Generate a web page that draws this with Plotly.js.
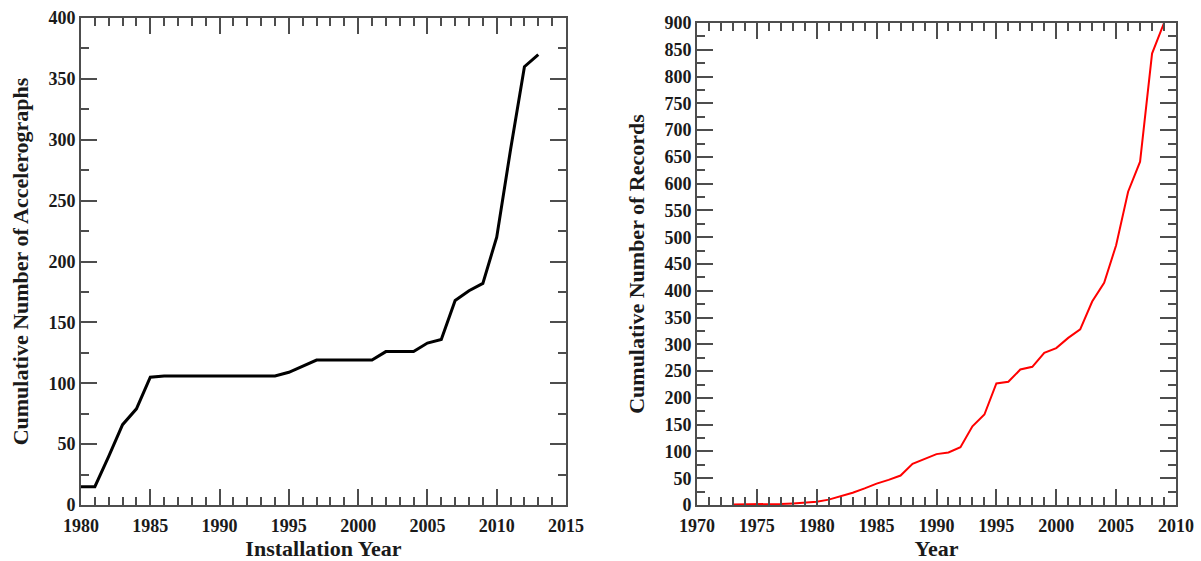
<!DOCTYPE html>
<html>
<head>
<meta charset="utf-8">
<script src="https://cdn.plot.ly/plotly-3.0.1.min.js"></script>
<style>
  html, body { margin: 0; padding: 0; background: #ffffff; }
  #chart { width: 1201px; height: 561px; }
</style>
</head>
<body>
<div id="chart"></div>
<script>
// Left panel: cumulative number of accelerographs by installation year
const installYears = [1980, 1981, 1982, 1983, 1984, 1985, 1986, 1987, 1988, 1989, 1990,
  1991, 1992, 1993, 1994, 1995, 1996, 1997, 1998, 1999, 2000, 2001, 2002, 2003, 2004,
  2005, 2006, 2007, 2008, 2009, 2010, 2011, 2012, 2013];
const accelerographs = [15, 15, 40, 66, 79, 105, 106, 106, 106, 106, 106,
  106, 106, 106, 106, 109, 114, 119, 119, 119, 119, 119, 126, 126, 126,
  133, 136, 168, 176, 182, 220, 292, 360, 370];

// Right panel: cumulative number of records by year
const recordYears = [1973, 1974, 1975, 1976, 1977, 1978, 1979, 1980, 1981, 1982, 1983,
  1984, 1985, 1986, 1987, 1988, 1989, 1990, 1991, 1992, 1993, 1994, 1995, 1996, 1997,
  1998, 1999, 2000, 2001, 2002, 2003, 2004, 2005, 2006, 2007, 2008, 2009];
const records = [1, 1, 1, 1, 2, 3, 4, 6, 10, 16, 23,
  31, 40, 47, 55, 77, 86, 95, 98, 108, 147, 169, 227, 230, 253,
  258, 284, 293, 312, 328, 380, 415, 485, 585, 641, 843, 900];

const leftXTitle = 'Installation Year';
const leftYTitle = 'Cumulative Number of Accelerographs';
const rightXTitle = 'Year';
const rightYTitle = 'Cumulative Number of Records';

const FONT = 'Liberation Serif, Times New Roman, serif';
const AXC = '#4d4d4d';
const TXT = '#1a1a1a';

function axisBase(range, dtick, minorDtick) {
  return {
    range: range,
    autorange: false,
    showgrid: false,
    zeroline: false,
    showline: true,
    linecolor: AXC,
    linewidth: 2,
    mirror: 'ticks',
    ticks: 'inside',
    ticklen: 16,
    tickwidth: 2,
    tickcolor: AXC,
    dtick: dtick,
    tick0: 0,
    automargin: false,
    tickfont: { family: FONT, size: 18, color: TXT, weight: 'bold' },
    minor: { ticks: 'inside', ticklen: 8, tickwidth: 2, tickcolor: AXC, dtick: minorDtick, tick0: 0, showgrid: false },
    fixedrange: true
  };
}

const data = [
  { x: installYears, y: accelerographs, type: 'scatter', mode: 'lines',
    line: { color: '#000000', width: 3 }, xaxis: 'x', yaxis: 'y', hoverinfo: 'x+y' },
  { x: recordYears, y: records, type: 'scatter', mode: 'lines',
    line: { color: '#ff0000', width: 2 }, xaxis: 'x2', yaxis: 'y2', hoverinfo: 'x+y' }
];

const titleFont = { family: FONT, size: 22, color: TXT, weight: 'bold' };

const layout = {
  width: 1201,
  height: 561,
  paper_bgcolor: '#ffffff',
  plot_bgcolor: '#ffffff',
  showlegend: false,
  margin: { l: 81, r: 25, t: 18, b: 56 },
  xaxis: Object.assign(axisBase([1980, 2015], 5, 1), {
    domain: [0, 0.44292], anchor: 'y', tick0: 1980, ticklabelstandoff: 3,
    title: { text: leftXTitle, font: titleFont, standoff: 4 }
  }),
  yaxis: Object.assign(axisBase([0, 400], 50, 25), {
    domain: [0, 1], anchor: 'x',
    title: { text: leftYTitle, font: titleFont, standoff: 14 }
  }),
  xaxis2: Object.assign(axisBase([1970, 2010], 5, 1), {
    domain: [0.56256, 1], anchor: 'y2', tick0: 1970, ticklabelstandoff: 3,
    title: { text: rightXTitle, font: titleFont, standoff: 4 }
  }),
  yaxis2: Object.assign(axisBase([0, 900], 50, 25), {
    domain: [0, 0.98973], anchor: 'x2',
    title: { text: rightYTitle, font: titleFont, standoff: 14 }
  })
};

Plotly.newPlot('chart', data, layout, { displayModeBar: false, staticPlot: true });
</script>
</body>
</html>
